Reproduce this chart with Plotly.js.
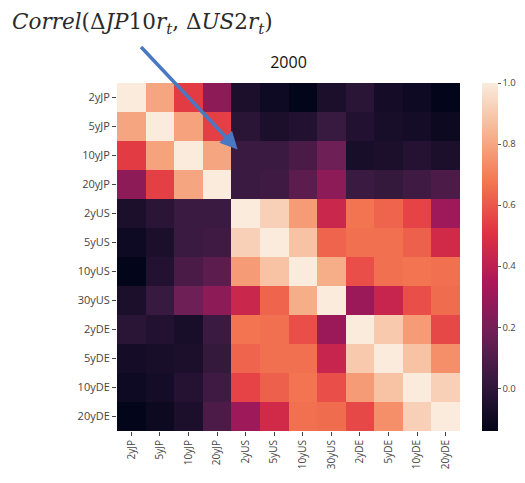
<!DOCTYPE html>
<html>
<head>
<meta charset="utf-8">
<script src="https://cdn.plot.ly/plotly-3.0.1.min.js"></script>
<style>html,body{margin:0;padding:0;background:#fff;}#chart{width:525px;height:483px;}</style>
</head>
<body>
<div id="chart"></div>
<script>
const labels = ["2yJP","5yJP","10yJP","20yJP","2yUS","5yUS","10yUS","30yUS","2yDE","5yDE","10yDE","20yDE"];
const r2yJP  = [1.00, 0.80, 0.53, 0.26, -0.06, -0.10, -0.14, -0.06, -0.01, -0.08, -0.10, -0.14];
const r5yJP  = [0.80, 1.00, 0.79, 0.54, -0.01, -0.06, -0.04, 0.03, -0.04, -0.07, -0.08, -0.11];
const r10yJP = [0.53, 0.79, 1.00, 0.80, 0.04, 0.04, 0.08, 0.18, -0.07, -0.06, -0.03, -0.06];
const r20yJP = [0.26, 0.54, 0.80, 1.00, 0.04, 0.05, 0.13, 0.26, 0.04, 0.02, 0.05, 0.09];
const r2yUS  = [-0.06, -0.01, 0.04, 0.04, 1.00, 0.92, 0.77, 0.44, 0.67, 0.63, 0.55, 0.31];
const r5yUS  = [-0.10, -0.06, 0.04, 0.05, 0.92, 1.00, 0.88, 0.63, 0.66, 0.66, 0.62, 0.46];
const r10yUS = [-0.14, -0.04, 0.08, 0.13, 0.77, 0.88, 1.00, 0.82, 0.58, 0.66, 0.67, 0.66];
const r30yUS = [-0.06, 0.03, 0.18, 0.26, 0.44, 0.63, 0.82, 1.00, 0.30, 0.43, 0.58, 0.65];
const r2yDE  = [-0.01, -0.04, -0.07, 0.04, 0.67, 0.66, 0.58, 0.30, 1.00, 0.90, 0.77, 0.56];
const r5yDE  = [-0.08, -0.07, -0.06, 0.02, 0.63, 0.66, 0.66, 0.43, 0.90, 1.00, 0.88, 0.74];
const r10yDE = [-0.10, -0.08, -0.03, 0.05, 0.55, 0.62, 0.67, 0.58, 0.77, 0.88, 1.00, 0.92];
const r20yDE = [-0.14, -0.11, -0.06, 0.09, 0.31, 0.46, 0.66, 0.65, 0.56, 0.74, 0.92, 1.00];
const zRows = [r2yJP, r5yJP, r10yJP, r20yJP, r2yUS, r5yUS, r10yUS, r30yUS, r2yDE, r5yDE, r10yDE, r20yDE];
const cbTicks = [0.0, 0.2, 0.4, 0.6, 0.8, 1.0];
const titleText = "2000";
const noteText = "<i>Correl</i>(Δ<i>JP</i>10<i>r</i><sub><i>t</i></sub>, Δ<i>US</i>2<i>r</i><sub><i>t</i></sub>)";

const rocket = [
  [0.0, "#03051a"], [0.143, "#35193e"], [0.286, "#701f57"], [0.429, "#ad1759"],
  [0.571, "#e13342"], [0.714, "#f37651"], [0.857, "#f6b48f"], [1.0, "#faebdd"]
];

const W = 525, H = 483;
const L = 117, R = 460, T = 83, B = 431;

const trace = {
  type: "heatmap",
  x: labels, y: labels, z: zRows,
  colorscale: rocket, zmin: -0.14, zmax: 1.0,
  xgap: 0, ygap: 0,
  colorbar: {
    x: (482 - L) / (R - L), xanchor: "left", xref: "paper",
    y: 0, yanchor: "bottom", len: 1, lenmode: "fraction",
    thickness: 16, outlinewidth: 0, xpad: 0, ypad: 0,
    tickvals: cbTicks, ticktext: cbTicks.map(v => v.toFixed(1)),
    ticks: "outside", ticklen: 3, tickcolor: "#555",
    tickfont: {family: "Open Sans", size: 9.5, color: "#444"}
  }
};

const layout = {
  width: W, height: H,
  margin: {l: L, r: W - R, t: T, b: H - B, autoexpand: false},
  paper_bgcolor: "#fff", plot_bgcolor: "#fff",
  font: {family: "Open Sans", color: "#333"},
  title: {text: titleText, x: (L + R) / 2 / W, xanchor: "center", xref: "container",
          y: 1 - 62 / H, yanchor: "middle", yref: "container",
          font: {family: "Open Sans", size: 16, color: "#111"}},
  xaxis: {type: "category", tickangle: -90, ticks: "outside", ticklen: 4, tickcolor: "#444",
          tickfont: {family: "Open Sans", size: 10, color: "#444"}, showgrid: false, zeroline: false,
          automargin: false, showline: false},
  yaxis: {type: "category", autorange: "reversed", ticks: "outside", ticklen: 4, tickcolor: "#444",
          tickfont: {family: "Open Sans", size: 11, color: "#444"}, showgrid: false, zeroline: false,
          automargin: false, showline: false},
  annotations: [
    {text: noteText, xref: "paper", yref: "paper", x: (10 - L) / (R - L), y: (B - 23) / (B - T),
     xanchor: "left", yanchor: "middle", showarrow: false,
     font: {family: "DejaVu Serif", size: 21.5, color: "#2a2a2a"}},
    {text: "", xref: "x", yref: "y", x: "2yUS", y: "10yJP", xshift: -8, yshift: 6,
     showarrow: true, arrowhead: 2, arrowsize: 1, arrowwidth: 3.5, arrowcolor: "#4a78c2",
     ax: -98, ay: -104, axref: "pixel", ayref: "pixel", standoff: 0}
  ]
};

Plotly.newPlot("chart", [trace], layout, {displayModeBar: false, staticPlot: true});
</script>
</body>
</html>
